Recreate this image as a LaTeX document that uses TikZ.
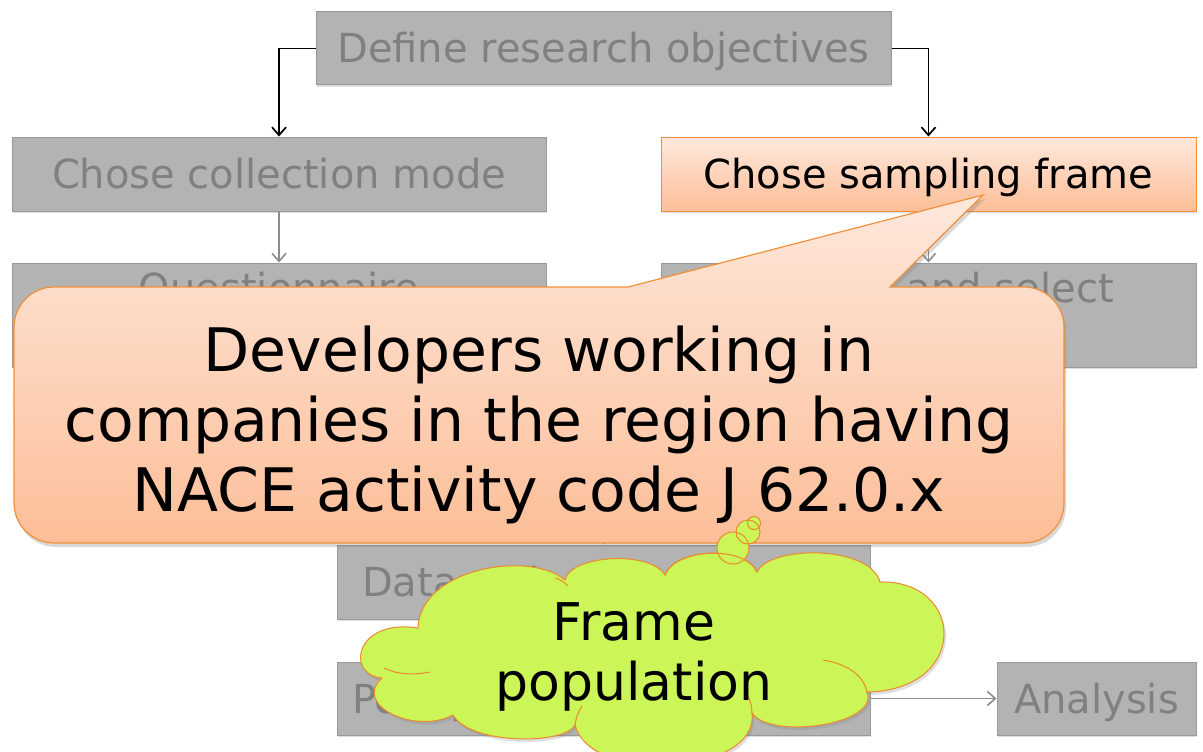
\documentclass[tikz,border=0pt]{standalone}
\usepackage{fontspec}
\setmainfont{DejaVu Sans}
\usetikzlibrary{arrows.meta,shadows}
\definecolor{boxfill}{HTML}{B3B3B3}
\definecolor{boxline}{HTML}{999999}
\definecolor{boxtext}{HTML}{808080}
\definecolor{ortop}{HTML}{FEE8DC}
\definecolor{orbot}{HTML}{FCBE98}
\definecolor{orline}{HTML}{F0903A}
\definecolor{cloudfill}{HTML}{CCF558}
\definecolor{cloudline}{HTML}{E98A2C}
\definecolor{grayarr}{HTML}{8C8C8C}
\begin{document}
\begin{tikzpicture}[x=1pt,y=-1pt,
  softshadow/.style={drop shadow={shadow xshift=1pt,shadow yshift=-2pt,opacity=0.25}},
  graybox/.style={draw=boxline, line width=1pt, fill=boxfill, text=boxtext, inner sep=0pt,
    font=\fontsize{40}{48}\selectfont, align=center, softshadow},
  oneline/.style={text height=30pt, text depth=1pt},
  orangebox/.style={draw=orline, line width=1pt, top color=ortop, bottom color=orbot, text=black,
    inner sep=0pt, font=\fontsize{40}{48}\selectfont, align=center, softshadow},
  blackarrow/.style={draw=black, line width=1.5pt, -{Straight Barb[length=8pt,width=14pt,line width=1.7pt]}},
  grayarrow/.style={draw=grayarr, line width=1.3pt, -{Straight Barb[length=8pt,width=14pt,line width=1.6pt]}},
  grayline/.style={draw=grayarr, line width=1.3pt},
  calloutshape/.style={draw=orline, line width=1.2pt, top color=ortop, bottom color=orbot,
    drop shadow={shadow xshift=2pt,shadow yshift=-4pt,opacity=0.3}},
  cloudbody/.style={fill=cloudfill, draw=cloudline, line width=1pt,
    drop shadow={shadow xshift=2pt,shadow yshift=-3pt,opacity=0.25}},
  cloudseam/.style={draw=cloudline, line width=1pt},
  bubble/.style={circle, inner sep=0pt, line width=1pt}
]
\useasboundingbox (0,0) rectangle (1203,752);
% boxes
\node[graybox, oneline, minimum width=575pt, minimum height=73pt] (def) at (603.5,48.5) {Define research objectives};
\node[graybox, oneline, minimum width=534pt, minimum height=74pt] (mode) at (279,174) {Chose collection mode};
\node[orangebox, oneline, minimum width=535pt, minimum height=74pt] (frame) at (928.5,174) {Chose sampling frame};
\node[graybox, minimum width=534pt, minimum height=104pt] (quest) at (279,315) {Questionnaire\\design};
\node[graybox, minimum width=535pt, minimum height=104pt] (sel) at (928.5,315) {Identify and select\\sample};
\node[graybox, oneline, minimum width=533pt, minimum height=74pt, text width=483pt, align=left] (data) at (603.5,582) {Data collection};
\node[graybox, oneline, minimum width=533pt, minimum height=73pt, text width=503pt, align=left] (post) at (603.5,698.5) {Post-processing};
\node[graybox, oneline, minimum width=199pt, minimum height=73pt] (ana) at (1096.5,698.5) {Analysis};
% connectors
\draw[blackarrow] (def.west) -| (mode.north);
\draw[blackarrow] (def.east) -| (frame.north);
\draw[grayarrow] (mode) -- (quest);
\draw[grayarrow] (frame) -- (sel);
\coordinate (join) at (603.5,456);
\draw[grayline] (sel.south) |- (join);
\draw[grayarrow] (quest.south) |- (join) -- (data.north);
\draw[grayarrow] (data) -- (post);
\draw[grayarrow] (post) -- (ana);
% callout
\path[calloutshape] (628,287) -- (983,195) -- (890,287) -- (1024,287)
  .. controls (1046,287) and (1064,305) .. (1064,327) -- (1064,503)
  .. controls (1064,525) and (1046,543) .. (1024,543) -- (54,543)
  .. controls (32,543) and (14,525) .. (14,503) -- (14,327)
  .. controls (14,305) and (32,287) .. (54,287) -- cycle;
\node[font=\fontsize{60}{70}\selectfont, align=center, inner sep=0pt] (calltext) at (539,425)
  {Developers working in\\companies in the region having\\NACE activity code J 62.0.x};
% cloud
\path[cloudbody] (382,678)
  .. controls (345,675) and (355,618) .. (418,628)
  .. controls (420,568) and (530,550) .. (565,580)
  .. controls (570,555) and (650,550) .. (665,575)
  .. controls (675,548) and (745,545) .. (757,572)
  .. controls (770,545) and (870,545) .. (880,582)
  .. controls (965,580) and (970,690) .. (867,692)
  .. controls (880,725) and (770,740) .. (752,713)
  .. controls (760,775) and (590,785) .. (575,725)
  .. controls (565,745) and (470,745) .. (453,715)
  .. controls (415,735) and (352,705) .. (382,678) -- cycle;
\draw[cloudseam] (384,668) .. controls (398,675) and (414,675) .. (430,672);
\draw[cloudseam] (823,660) .. controls (848,664) and (864,676) .. (867,692);
\draw[cloudseam] (555,578) .. controls (560,579) and (565,583) .. (568,586);
\draw[cloudseam] (752,713) .. controls (752,706) and (750,700) .. (747,694);
\draw[cloudseam] (575,725) .. controls (576,718) and (578,712) .. (582,706);
\node[bubble, minimum size=32pt, fill=cloudfill] (bubA) at (733,548) {};
\node[bubble, minimum size=24pt, fill=cloudfill] (bubB) at (748,532) {};
\node[bubble, minimum size=13pt, fill=cloudfill] (bubC) at (754,523) {};
\draw[cloudseam] (665,575) .. controls (675,548) and (745,545) .. (757,572);
\node[bubble, minimum size=32pt, draw=cloudline] (bubAedge) at (bubA.center) {};
\node[bubble, minimum size=24pt, draw=cloudline] (bubBedge) at (bubB.center) {};
\node[bubble, minimum size=13pt, draw=cloudline] (bubCedge) at (bubC.center) {};
\node[font=\fontsize{52}{60}\selectfont, align=center, inner sep=0pt] (cloudtext) at (634,657) {Frame\\population};
\end{tikzpicture}
\end{document}
